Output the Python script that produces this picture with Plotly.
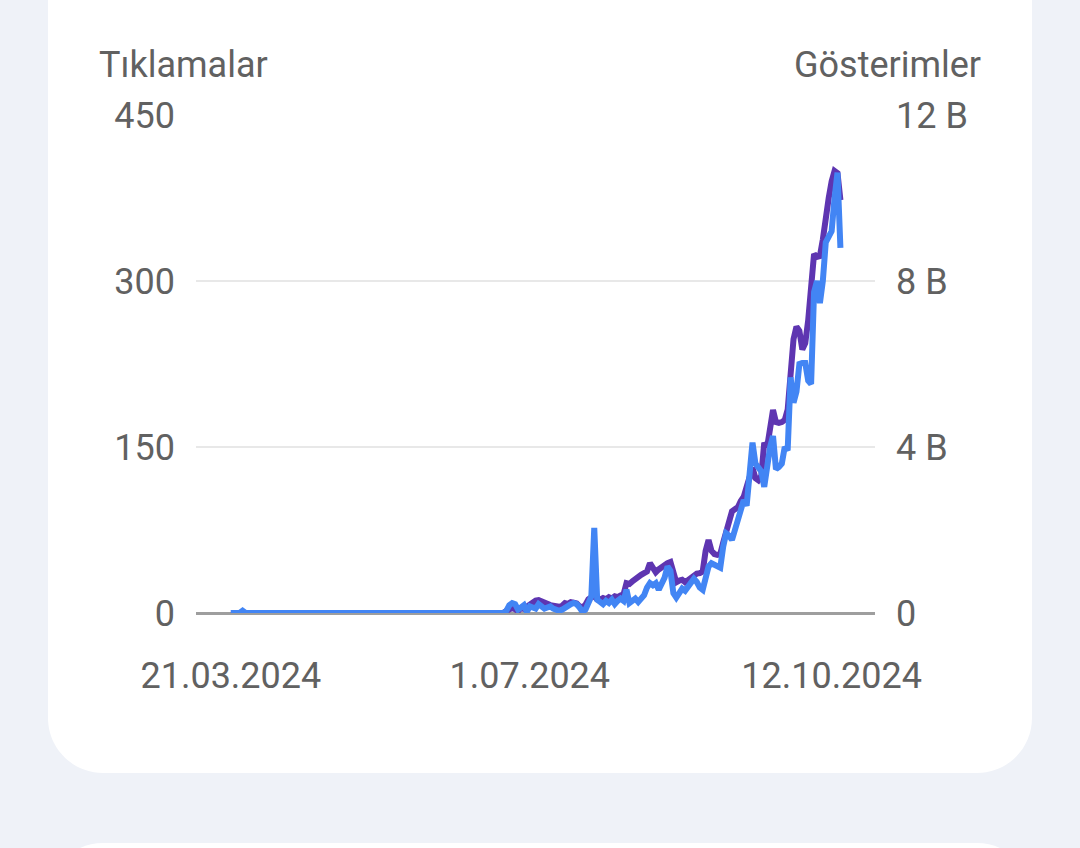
import plotly.graph_objects as go
import pandas as pd

# daily values, starting 21.03.2024
start_date = "2024-03-21"

# Tıklamalar (left axis)
clicks = [
    0, 0, 0, 0, 2, 0, 0, 0, 0, 0,
    0, 0, 0, 0, 0, 0, 0, 0, 0, 0,
    0, 0, 0, 0, 0, 0, 0, 0, 0, 0,
    0, 0, 0, 0, 0, 0, 0, 0, 0, 0,
    0, 0, 0, 0, 0, 0, 0, 0, 0, 0,
    0, 0, 0, 0, 0, 0, 0, 0, 0, 0,
    0, 0, 0, 0, 0, 0, 0, 0, 0, 0,
    0, 0, 0, 0, 0, 0, 0, 0, 0, 0,
    0, 0, 0, 0, 0, 0, 0, 0, 0, 0,
    0, 0, 0, 0,
    2, 7, 9, 8, 3, 5, 7, 1, 6, 5,
    4, 8, 6, 4, 5, 6, 4, 3, 2, 3,
    5, 7, 8, 9, 8, 5, 1, 3, 8, 15,
    77, 12, 10, 8, 11, 9, 12, 8, 11, 13,
    11, 21, 9, 11, 13, 10, 14, 16, 23, 27,
    25, 27, 21, 26, 32, 42, 38, 18, 14, 18,
    22, 20, 24, 28, 31, 28, 23, 21, 32, 42,
    45, 44, 42, 41, 60, 72, 70, 66, 75, 84,
    95, 102, 97, 120, 154, 135, 132, 128, 114, 135,
    150, 160, 130, 132, 135, 150, 147, 213, 190, 200,
    225, 226, 226, 210, 207, 290, 300, 280, 300, 335,
    340, 345, 375, 398, 330,
]

# Gösterimler (right axis)
impressions = [
    0, 0, 0, 0, 0, 0, 0, 0, 0, 0,
    0, 0, 0, 0, 0, 0, 0, 0, 0, 0,
    0, 0, 0, 0, 0, 0, 0, 0, 0, 0,
    0, 0, 0, 0, 0, 0, 0, 0, 0, 0,
    0, 0, 0, 0, 0, 0, 0, 0, 0, 0,
    0, 0, 0, 0, 0, 0, 0, 0, 0, 0,
    0, 0, 0, 0, 0, 0, 0, 0, 0, 0,
    0, 0, 0, 0, 0, 0, 0, 0, 0, 0,
    0, 0, 0, 0, 0, 0, 0, 0, 0, 0,
    0, 0, 0, 0,
    50, 100, 120, 90, 50, 120, 100, 150, 200, 260,
    300, 310, 290, 260, 220, 190, 170, 160, 150, 170,
    240, 220, 260, 250, 230, 160, 140, 200, 330, 380,
    400, 330, 320, 360, 330, 380, 350, 400, 380, 420,
    450, 720, 700, 760, 830, 870, 920, 960, 1000, 1200,
    1100, 980, 1050, 1110, 1150, 1200, 1230, 1000, 740, 780,
    800, 740, 800, 870, 900, 950, 960, 1000, 1500, 1760,
    1500, 1420, 1400, 1420, 1700, 1930, 2200, 2450, 2500, 2550,
    2700, 2800, 3040, 3300, 3500, 3250, 3200, 3300, 4100, 4000,
    4500, 4890, 4600, 4580, 4600, 4650, 4900, 6000, 6600, 6900,
    6800, 6350, 6500, 7050, 8000, 8650, 8580, 8600, 9000, 9600,
    10000, 10400, 10650, 10600, 9950,
]

x_tick_dates = ["2024-03-21", "2024-07-01", "2024-10-12"]
x_tick_labels = ["21.03.2024", "1.07.2024", "12.10.2024"]
left_ticks = [0, 150, 300, 450]
right_ticks = [0, 4000, 8000, 12000]
right_labels = ["0", "4 B", "8 B", "12 B"]

dates = pd.date_range(start_date, periods=len(clicks), freq="D")
assert len(clicks) == len(impressions)

W, H = 1080, 848
ml, mr, mt, mb = 196, 205, 115, 235
pw = W - ml - mr
ph = H - mt - mb

GRAY = "#616161"


def px(x):
    return (x - ml) / pw


def py(y):
    return (H - mb - y) / ph


def card_path(left, right, top, bottom, r):
    k = 0.552 * r
    pts = [
        "M %f,%f" % (px(left + r), py(top)),
        "L %f,%f" % (px(right - r), py(top)),
        "C %f,%f %f,%f %f,%f" % (px(right - r + k), py(top), px(right), py(top + r - k), px(right), py(top + r)),
        "L %f,%f" % (px(right), py(bottom - r)),
        "C %f,%f %f,%f %f,%f" % (px(right), py(bottom - r + k), px(right - r + k), py(bottom), px(right - r), py(bottom)),
        "L %f,%f" % (px(left + r), py(bottom)),
        "C %f,%f %f,%f %f,%f" % (px(left + r - k), py(bottom), px(left), py(bottom - r + k), px(left), py(bottom - r)),
        "L %f,%f" % (px(left), py(top + r)),
        "C %f,%f %f,%f %f,%f" % (px(left), py(top + r - k), px(left + r - k), py(top), px(left + r), py(top)),
        "Z",
    ]
    return " ".join(pts)


fig = go.Figure()
# impressions on the base axis (right side), clicks on the overlay so blue sits on top
fig.add_trace(go.Scatter(x=dates, y=impressions, yaxis="y", mode="lines",
                         name="Gösterimler",
                         line=dict(color="#5e35b1", width=6)))
fig.add_trace(go.Scatter(x=dates, y=clicks, yaxis="y2", mode="lines",
                         name="Tıklamalar",
                         line=dict(color="#4285f4", width=6)))

x0 = pd.Timestamp(start_date) - pd.Timedelta(days=11.9)
x1 = pd.Timestamp(start_date) + pd.Timedelta(days=219.8)

fig.update_layout(
    width=W, height=H,
    margin=dict(l=ml, r=mr, t=mt, b=mb),
    paper_bgcolor="#eff2f8",
    plot_bgcolor="rgba(0,0,0,0)",
    showlegend=False,
    font=dict(family="Roboto", color=GRAY, size=36),
    xaxis=dict(
        type="date", range=[x0, x1],
        tickvals=x_tick_dates, ticktext=x_tick_labels,
        showgrid=False, zeroline=False, showline=False,
        ticks="", ticklabelstandoff=38,
        tickfont=dict(size=36, color=GRAY),
    ),
    yaxis=dict(
        range=[0, 12000], tickvals=right_ticks, ticktext=right_labels,
        side="right",
        showgrid=True, gridcolor="#e8e8e8", gridwidth=2,
        zeroline=True, zerolinecolor="#9e9e9e", zerolinewidth=3,
        showline=False, ticks="", ticklabelstandoff=20,
        tickfont=dict(size=36, color=GRAY),
    ),
    yaxis2=dict(
        range=[0, 450], tickvals=left_ticks,
        overlaying="y", side="left",
        showgrid=False, zeroline=False, showline=False,
        ticks="", ticklabelstandoff=20,
        tickfont=dict(size=36, color=GRAY),
    ),
    shapes=[
        dict(type="path", xref="paper", yref="paper", layer="below",
             path=card_path(48, 1032, -120, 773, 55),
             fillcolor="white", line=dict(width=0)),
        dict(type="path", xref="paper", yref="paper", layer="below",
             path=card_path(48, 1032, 843, 960, 55),
             fillcolor="white", line=dict(width=0)),
    ],
    annotations=[
        dict(text="Tıklamalar", xref="paper", yref="paper",
             x=px(97), y=py(65), xanchor="left", yanchor="middle",
             showarrow=False, font=dict(size=36, color=GRAY)),
        dict(text="Gösterimler", xref="paper", yref="paper",
             x=px(983), y=py(65), xanchor="right", yanchor="middle",
             showarrow=False, font=dict(size=36, color=GRAY)),
    ],
)

fig.write_html("out.html", config={"displayModeBar": False},
               post_script="document.body.style.margin='0';document.body.style.overflow='hidden';")
